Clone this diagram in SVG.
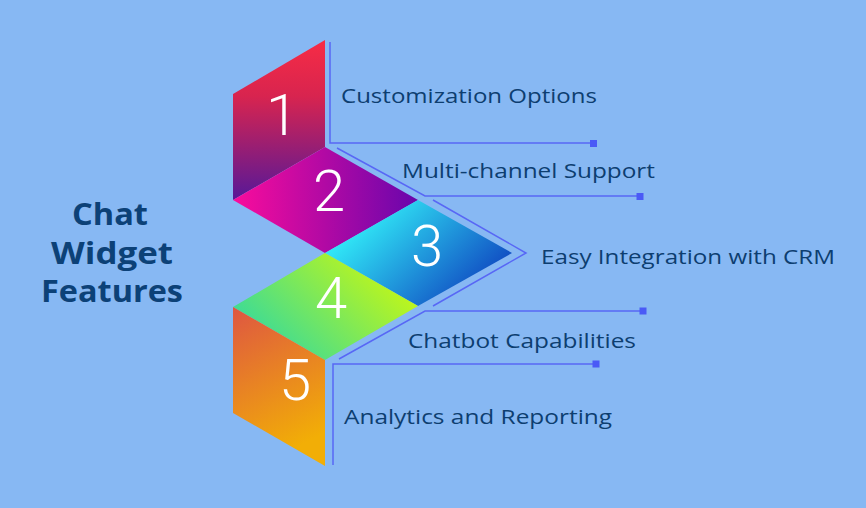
<svg xmlns="http://www.w3.org/2000/svg" width="866" height="508" viewBox="0 0 866 508">
<defs>
<linearGradient id="g1" x1="0" y1="0" x2="0" y2="1"><stop offset="0" stop-color="#f72c45"/><stop offset="0.35" stop-color="#d8244f"/><stop offset="1" stop-color="#571898"/></linearGradient>
<linearGradient id="g2" x1="0" y1="0" x2="1" y2="0"><stop offset="0" stop-color="#fa0c9c"/><stop offset="1" stop-color="#6806ac"/></linearGradient>
<linearGradient id="g3" x1="0" y1="0.2" x2="1" y2="0.8"><stop offset="0.15" stop-color="#30e6f6"/><stop offset="1" stop-color="#0c36bb"/></linearGradient>
<linearGradient id="g4" x1="0" y1="0.8" x2="1" y2="0.2"><stop offset="0" stop-color="#2ad7a8"/><stop offset="1" stop-color="#d2fa08"/></linearGradient>
<linearGradient id="g5" x1="0" y1="0" x2="0.3" y2="1"><stop offset="0" stop-color="#de5642"/><stop offset="1" stop-color="#f2ae06"/></linearGradient>
<style>
.num{font-family:Roboto,"Liberation Sans",sans-serif;font-weight:300;font-size:58px;fill:#ffffff;text-anchor:middle}
.lbl{font-family:"Open Sans","Liberation Sans",sans-serif;font-size:20.5px;fill:#0d3e70}
.ttl{font-family:"Open Sans","Liberation Sans",sans-serif;font-weight:700;font-size:30px;fill:#0c4177}
.ln{fill:none;stroke:#5867f5;stroke-width:1.5}
.dot{fill:#4a5af6}
</style>
</defs>
<rect width="866" height="508" fill="#87b8f3"/>
<g id="title">
<text class="ttl" x="72" y="225" textLength="76" lengthAdjust="spacingAndGlyphs">Chat</text>
<text class="ttl" x="51" y="264" textLength="122" lengthAdjust="spacingAndGlyphs">Widget</text>
<text class="ttl" x="41" y="302" textLength="142" lengthAdjust="spacingAndGlyphs">Features</text>
</g>
<g id="connectors">
<polyline class="ln" points="330,42 330,143 593,143"/>
<rect class="dot" x="590" y="140" width="7" height="7"/>
<polyline class="ln" points="337,148 425,196 640,196"/>
<rect class="dot" x="636.5" y="193" width="7" height="7"/>
<polyline class="ln" points="433,200 526,253 433,306"/>
<polyline class="ln" points="339,359 425,311 643,311"/>
<rect class="dot" x="639.5" y="307.5" width="7" height="7"/>
<polyline class="ln" points="333,465 333,364 596,364"/>
<rect class="dot" x="592.5" y="360.5" width="7" height="7"/>
</g>
<g id="node1">
<polygon points="233,94 325,40 325,147 233,200" fill="url(#g1)"/>
<text class="num" x="282" y="135">1</text>
<text class="lbl" x="341" y="103" textLength="256" lengthAdjust="spacingAndGlyphs">Customization Options</text>
</g>
<g id="node2">
<polygon points="233,200 325,147 418,200 325,253" fill="url(#g2)"/>
<text class="num" x="329" y="211">2</text>
<text class="lbl" x="402" y="178" textLength="253" lengthAdjust="spacingAndGlyphs">Multi-channel Support</text>
</g>
<g id="node3">
<polygon points="325,253 418,200 512,253 418,306" fill="url(#g3)"/>
<text class="num" x="427" y="266">3</text>
<text class="lbl" x="541" y="264" textLength="294" lengthAdjust="spacingAndGlyphs">Easy Integration with CRM</text>
</g>
<g id="node4">
<polygon points="233,307 325,253 418,306 325,360" fill="url(#g4)"/>
<text class="num" x="331" y="318">4</text>
<text class="lbl" x="408" y="348" textLength="228" lengthAdjust="spacingAndGlyphs">Chatbot Capabilities</text>
</g>
<g id="node5">
<polygon points="233,307 325,360 325,466 233,413" fill="url(#g5)"/>
<text class="num" x="295" y="400">5</text>
<text class="lbl" x="344" y="424" textLength="268" lengthAdjust="spacingAndGlyphs">Analytics and Reporting</text>
</g>
</svg>
